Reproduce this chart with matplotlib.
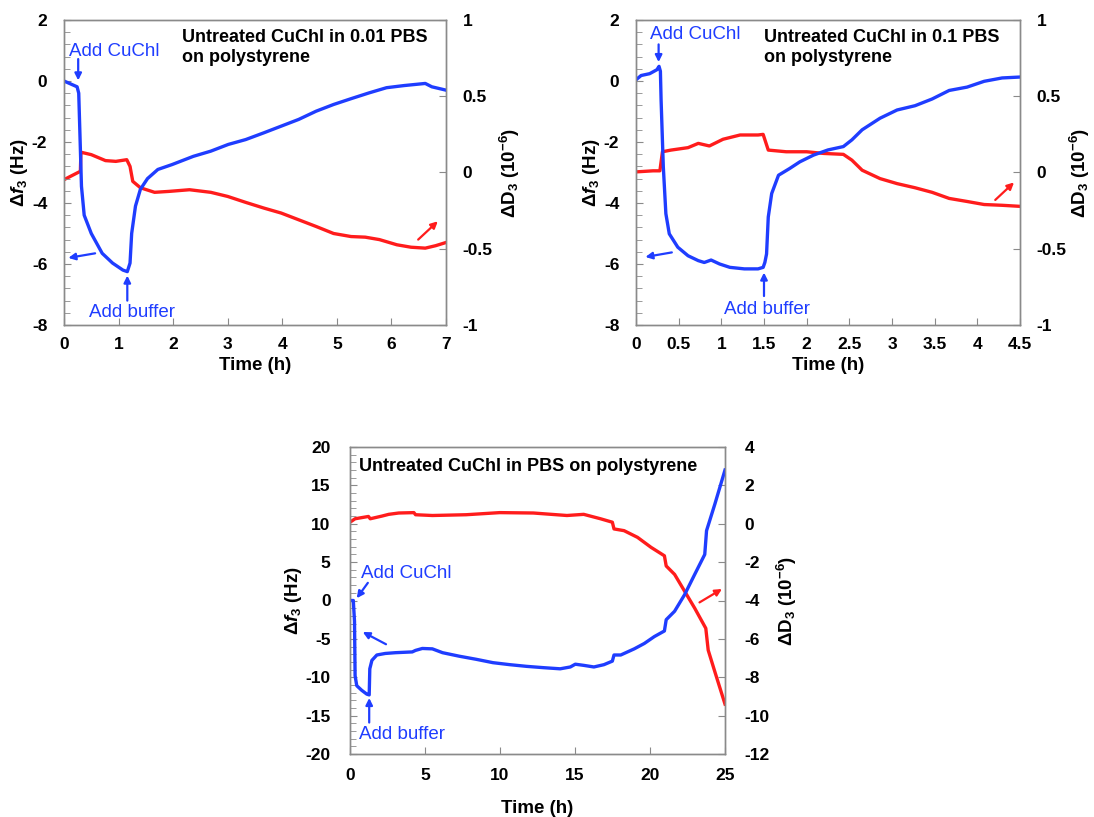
import matplotlib
matplotlib.use("Agg")
import matplotlib.pyplot as plt
from matplotlib.ticker import MultipleLocator, FuncFormatter

plt.rcParams['font.family'] = ['Liberation Sans', 'DejaVu Sans']
plt.rcParams['axes.unicode_minus'] = False
plt.rcParams['mathtext.fontset'] = 'custom'
plt.rcParams['mathtext.rm'] = 'Liberation Sans:bold'
plt.rcParams['mathtext.it'] = 'Liberation Sans:italic:bold'
plt.rcParams['mathtext.bf'] = 'Liberation Sans:bold'
plt.rcParams['mathtext.default'] = 'rm'

BLUE = '#1f3dff'
RED = '#ff1c1c'
SPINE = '#8a8a8a'

# ---------------- Panel 1 data (0.01 PBS) ----------------
t1_f = [0, 0.24, 0.27, 0.32, 0.37, 0.5, 0.7, 0.89, 1.08, 1.16, 1.21, 1.24, 1.31, 1.4, 1.53,
        1.72, 1.98, 2.37, 2.69, 3.01, 3.33, 3.66, 3.98, 4.3, 4.62, 4.94, 5.26, 5.59, 5.91,
        6.23, 6.62, 6.74, 7.0]
f1 = [0.0, -0.19, -0.4, -3.45, -4.4, -5.0, -5.65, -5.97, -6.2, -6.25, -5.97, -5.0, -4.1, -3.55,
      -3.2, -2.9, -2.74, -2.47, -2.3, -2.08, -1.92, -1.7, -1.48, -1.26, -0.99, -0.77, -0.58,
      -0.39, -0.22, -0.15, -0.08, -0.19, -0.3]
t1_d = [0, 0.18, 0.3, 0.31, 0.5, 0.76, 0.95, 1.15, 1.21, 1.26, 1.4, 1.66, 1.92, 2.3, 2.69, 3.0,
        3.33, 3.66, 3.98, 4.3, 4.62, 4.94, 5.26, 5.52, 5.78, 6.1, 6.36, 6.62, 6.81, 7.0]
d1 = [-0.047, -0.014, 0.008, 0.133, 0.117, 0.078, 0.073, 0.084, 0.04, -0.058, -0.1, -0.13,
      -0.124, -0.113, -0.13, -0.157, -0.196, -0.233, -0.266, -0.31, -0.354, -0.4, -0.42,
      -0.424, -0.44, -0.474, -0.49, -0.496, -0.48, -0.459]

# ---------------- Panel 2 data (0.1 PBS) ----------------
t2_f = [0, 0.06, 0.16, 0.245, 0.27, 0.286, 0.294, 0.32, 0.35, 0.39, 0.49, 0.61, 0.73, 0.8, 0.88,
        0.98, 1.1, 1.27, 1.43, 1.49, 1.51, 1.53, 1.55, 1.59, 1.67, 1.8, 1.92, 2.08, 2.25, 2.43,
        2.53, 2.65, 2.86, 3.06, 3.27, 3.47, 3.67, 3.88, 4.08, 4.29, 4.5]
f2 = [0.04, 0.18, 0.24, 0.37, 0.48, 0.32, -0.62, -2.81, -4.35, -5.01, -5.45, -5.73, -5.89, -5.95,
      -5.87, -6.0, -6.11, -6.16, -6.16, -6.11, -5.95, -5.67, -4.46, -3.69, -3.09, -2.87, -2.65,
      -2.43, -2.26, -2.15, -1.93, -1.6, -1.22, -0.95, -0.81, -0.59, -0.31, -0.2, -0.01, 0.1, 0.13]
t2_d = [0, 0.2, 0.28, 0.31, 0.41, 0.61, 0.73, 0.86, 1.02, 1.22, 1.43, 1.49, 1.55, 1.76, 2.0, 2.2,
        2.43, 2.53, 2.65, 2.86, 3.06, 3.27, 3.47, 3.67, 3.88, 4.08, 4.29, 4.5]
d2 = [0.004, 0.011, 0.011, 0.136, 0.147, 0.163, 0.191, 0.174, 0.218, 0.246, 0.246, 0.25, 0.147,
      0.136, 0.136, 0.125, 0.119, 0.081, 0.015, -0.04, -0.073, -0.1, -0.13, -0.17, -0.19,
      -0.21, -0.215, -0.222]

# ---------------- Panel 3 data (PBS) ----------------
t3_f = [0, 0.22, 0.3, 0.34, 0.45, 0.78, 1.12, 1.28, 1.32, 1.46, 1.79, 2.35, 3.03, 4.15, 4.37, 4.82,
        5.49, 6.17, 7.29, 8.41, 9.53, 10.65, 11.77, 12.89, 14.01, 14.69, 15.02, 15.58, 16.26,
        16.93, 17.49, 17.6, 18.05, 18.95, 19.62, 20.29, 20.96, 21.08, 21.64, 22.31, 22.98, 23.65,
        23.77, 24.33, 25.0]
f3 = [0.0, 0.0, -2.7, -9.8, -11.1, -11.7, -12.2, -12.3, -8.9, -7.8, -7.1, -6.9, -6.8, -6.7, -6.5,
      -6.25, -6.3, -6.8, -7.26, -7.66, -8.1, -8.36, -8.58, -8.75, -8.9, -8.66, -8.3, -8.45,
      -8.66, -8.36, -7.9, -7.1, -7.1, -6.3, -5.6, -4.7, -3.97, -2.5, -1.4, 0.77, 3.4, 6.0, 9.1,
      12.6, 17.0]
t3_d = [0, 0.34, 1.23, 1.35, 2.13, 2.58, 3.25, 4.26, 4.37, 5.49, 7.74, 9.98, 12.22, 14.46, 15.58,
        16.7, 17.49, 17.6, 18.27, 19.17, 20.07, 20.96, 21.08, 21.64, 22.31, 22.98, 23.72, 23.88,
        24.33, 25.0]
d3 = [0.08, 0.26, 0.38, 0.26, 0.4, 0.49, 0.56, 0.58, 0.47, 0.43, 0.47, 0.58, 0.56, 0.43, 0.49,
      0.26, 0.08, -0.27, -0.36, -0.71, -1.23, -1.67, -2.2, -2.64, -3.52, -4.4, -5.45, -6.59,
      -7.73, -9.4]

titles = ["Untreated CuChl in 0.01 PBS\non polystyrene",
          "Untreated CuChl in 0.1 PBS\non polystyrene",
          "Untreated CuChl in PBS on polystyrene"]

fig = plt.figure(figsize=(10.94, 8.17), dpi=100)

W, H = 1094, 817
def rect(l, r, t, b):
    return [l / W, 1 - b / H, (r - l) / W, (b - t) / H]

gfmt = FuncFormatter(lambda v, p: '{:g}'.format(round(v, 6)))

def style(ax, ax2, xlim, xmaj, ylim, ymaj, ymin, dlim, dmaj, ypad, xpad, rpad=4):
    ax.set_xlim(*xlim); ax.set_ylim(*ylim); ax2.set_ylim(*dlim)
    ax.xaxis.set_major_locator(MultipleLocator(xmaj))
    ax.yaxis.set_major_locator(MultipleLocator(ymaj))
    ax.yaxis.set_minor_locator(MultipleLocator(ymin))
    ax2.yaxis.set_major_locator(MultipleLocator(dmaj))
    ax.xaxis.set_major_formatter(gfmt)
    ax.yaxis.set_major_formatter(gfmt)
    ax2.yaxis.set_major_formatter(gfmt)
    for a in (ax, ax2):
        for s in a.spines.values():
            s.set_color(SPINE); s.set_linewidth(1.0)
    ax.tick_params(axis='x', which='both', direction='in', length=5, color=SPINE,
                   labelsize=12.5, pad=xpad, top=False)
    ax.tick_params(axis='y', which='major', direction='in', length=5, color=SPINE,
                   labelsize=12.5, pad=ypad, right=False)
    ax.tick_params(axis='y', which='minor', direction='in', length=4, color=SPINE, right=False)
    ax2.tick_params(axis='y', which='major', direction='in', length=5, color=SPINE,
                    labelsize=12.5, pad=ypad)
    for lab in ax.get_xticklabels() + ax.get_yticklabels() + ax2.get_yticklabels():
        lab.set_fontweight('bold')
    ax.set_xlabel('Time (h)', fontsize=13.5, fontweight='bold')
    ax.set_ylabel(r'Δ$\mathit{f}_{3}$ (Hz)', fontsize=13.5, fontweight='bold', labelpad=1)
    ax2.set_ylabel(r'ΔD$_{3}$ (10$^{-6}$)', fontsize=13.5, fontweight='bold', labelpad=rpad)

def arrow(ax, xy_from, xy_to, color):
    ax.annotate('', xy=xy_to, xytext=xy_from,
                arrowprops=dict(arrowstyle='-|>', color=color, lw=1.6, mutation_scale=10,
                                shrinkA=0, shrinkB=0))

# ---------- Panel 1 ----------
ax1 = fig.add_axes(rect(64, 446, 20, 325))
ax1b = ax1.twinx()
ax1.set_zorder(ax1b.get_zorder() + 1); ax1.patch.set_visible(False)
ax1b.plot(t1_d, d1, color=RED, lw=2.4, solid_joinstyle='round')
ax1.plot(t1_f, f1, color=BLUE, lw=2.4, solid_joinstyle='round')
style(ax1, ax1b, (0, 7), 1, (-8, 2), 2, 0.4, (-1, 1), 0.5, 12, 8.5)
ax1.text(2.17, 1.72, titles[0], fontsize=13, fontweight='bold', va='top', ha='left',
         linespacing=1.3)
ax1.text(0.1, 0.82, 'Add CuChl', color=BLUE, fontsize=13.5, ha='left', va='baseline')
arrow(ax1, (0.26, 0.72), (0.26, 0.02), BLUE)
ax1.text(0.45, -7.73, 'Add buffer', color=BLUE, fontsize=13.5, ha='left', va='baseline')
arrow(ax1, (1.16, -7.2), (1.16, -6.38), BLUE)
arrow(ax1, (0.57, -5.65), (0.08, -5.8), BLUE)
arrow(ax1b, (6.49, -0.44), (6.85, -0.32), RED)

# ---------- Panel 2 ----------
ax2 = fig.add_axes(rect(636, 1020, 20, 325))
ax2b = ax2.twinx()
ax2.set_zorder(ax2b.get_zorder() + 1); ax2.patch.set_visible(False)
ax2b.plot(t2_d, d2, color=RED, lw=2.4, solid_joinstyle='round')
ax2.plot(t2_f, f2, color=BLUE, lw=2.4, solid_joinstyle='round')
style(ax2, ax2b, (0, 4.5), 0.5, (-8, 2), 2, 0.4, (-1, 1), 0.5, 12, 8.5, rpad=1)
ax2.text(1.5, 1.72, titles[1], fontsize=13, fontweight='bold', va='top', ha='left',
         linespacing=1.3)
ax2.text(0.16, 1.38, 'Add CuChl', color=BLUE, fontsize=13.5, ha='left', va='baseline')
arrow(ax2, (0.265, 1.2), (0.265, 0.62), BLUE)
ax2.text(1.03, -7.65, 'Add buffer', color=BLUE, fontsize=13.5, ha='left', va='baseline')
arrow(ax2, (1.5, -7.05), (1.5, -6.28), BLUE)
arrow(ax2, (0.42, -5.62), (0.11, -5.77), BLUE)
arrow(ax2b, (4.21, -0.18), (4.43, -0.065), RED)

# ---------- Panel 3 ----------
ax3 = fig.add_axes(rect(350, 725, 447, 754))
ax3b = ax3.twinx()
ax3.set_zorder(ax3b.get_zorder() + 1); ax3.patch.set_visible(False)
ax3b.plot(t3_d, d3, color=RED, lw=2.4, solid_joinstyle='round')
ax3.plot(t3_f, f3, color=BLUE, lw=2.4, solid_joinstyle='round')
style(ax3, ax3b, (0, 25), 5, (-20, 20), 5, 1, (-12, 4), 2, 14, 10)
ax3.xaxis.labelpad = 12
ax3.text(0.6, 18.6, titles[2], fontsize=13, fontweight='bold', va='top', ha='left')
ax3.text(0.74, 2.97, 'Add CuChl', color=BLUE, fontsize=13.5, ha='left', va='baseline')
arrow(ax3, (1.19, 2.3), (0.45, 0.3), BLUE)
ax3.text(0.6, -18.1, 'Add buffer', color=BLUE, fontsize=13.5, ha='left', va='baseline')
arrow(ax3, (1.28, -15.9), (1.28, -12.7), BLUE)
arrow(ax3, (2.4, -5.7), (0.85, -4.1), BLUE)
arrow(ax3b, (23.3, -4.1), (24.8, -3.4), RED)

fig.savefig('out.png', dpi=100)
